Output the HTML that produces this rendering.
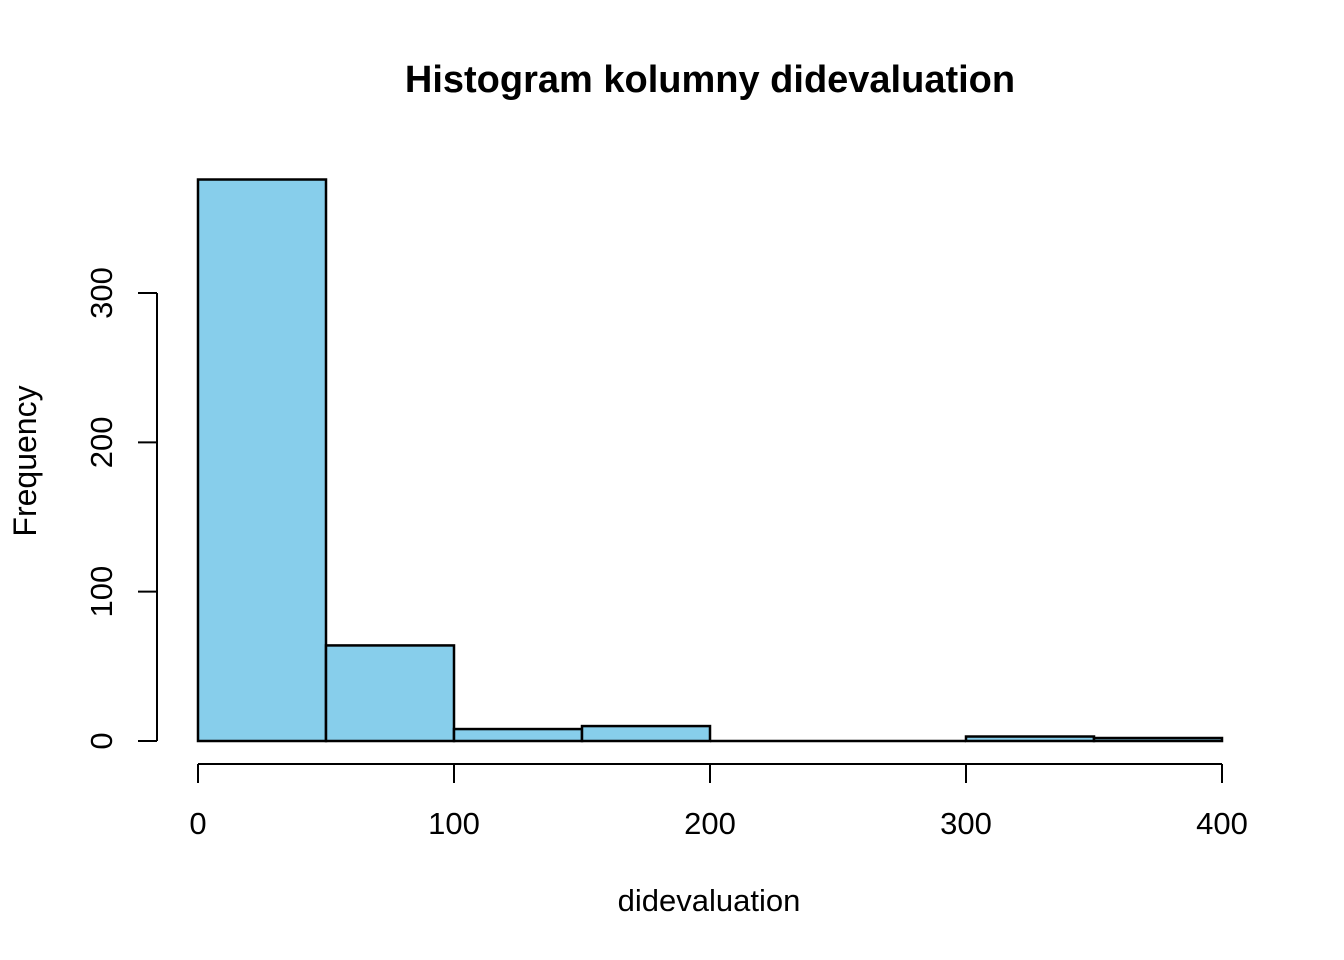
<!DOCTYPE html>
<html><head><meta charset="utf-8"><style>body{margin:0;background:#fff}svg{display:block}text{font-family:"Liberation Sans",Arial,sans-serif}</style></head>
<body>
<svg id="chart" width="1344" height="960">
<text x="710" y="92" text-anchor="middle" font-size="38" font-weight="bold">Histogram kolumny didevaluation</text>
<text x="709" y="911" text-anchor="middle" font-size="31">didevaluation</text>
<text transform="translate(36,461) rotate(-90)" text-anchor="middle" font-size="32">Frequency</text>
<g id="bars"></g><g id="xaxis"></g><g id="yaxis"></g>
</svg>
<script>
const binEdges=[0,50,100,150,200,250,300,350,400];
const counts=[376,64,8,10,0,0,3,2];
const xTicks=[0,100,200,300,400];
const yTicks=[0,100,200,300];
const ns="http://www.w3.org/2000/svg";
const xs=v=>198+v*(1222-198)/400;
const ys=v=>741-v*(741-293)/300;
function mk(t,a,p){const e=document.createElementNS(ns,t);for(const k in a)e.setAttribute(k,a[k]);p.appendChild(e);return e;}
const bars=document.getElementById('bars');
counts.forEach((c,i)=>{
 const x0=xs(binEdges[i]),x1=xs(binEdges[i+1]);
 let r;
 if(c===0){
  r=mk('line',{x1:x0,x2:x1,y1:ys(0),y2:ys(0),stroke:'#000','stroke-width':2.5},bars);
 } else {
  r=mk('rect',{x:x0,y:ys(c),width:x1-x0,height:ys(0)-ys(c),fill:'#87CEEB',stroke:'#000','stroke-width':2.5},bars);
 }
 
 
});
const xa=document.getElementById('xaxis');
mk('line',{x1:xs(xTicks[0]),x2:xs(xTicks[xTicks.length-1]),y1:764,y2:764,stroke:'#000','stroke-width':2},xa);
xTicks.forEach(t=>{
 mk('line',{x1:xs(t),x2:xs(t),y1:764,y2:783,stroke:'#000','stroke-width':2},xa);
 const tx=mk('text',{x:xs(t),y:834,'text-anchor':'middle','font-size':31},xa);tx.textContent=t;
 
 
});
const ya=document.getElementById('yaxis');
mk('line',{x1:157,x2:157,y1:ys(yTicks[0]),y2:ys(yTicks[yTicks.length-1]),stroke:'#000','stroke-width':2},ya);
yTicks.forEach(t=>{
 mk('line',{x1:138,x2:157,y1:ys(t),y2:ys(t),stroke:'#000','stroke-width':2},ya);
 const tx=mk('text',{transform:`translate(112,${ys(t)}) rotate(-90)`,'text-anchor':'middle','font-size':31},ya);tx.textContent=t;
 
 
});
</script>
</body></html>
